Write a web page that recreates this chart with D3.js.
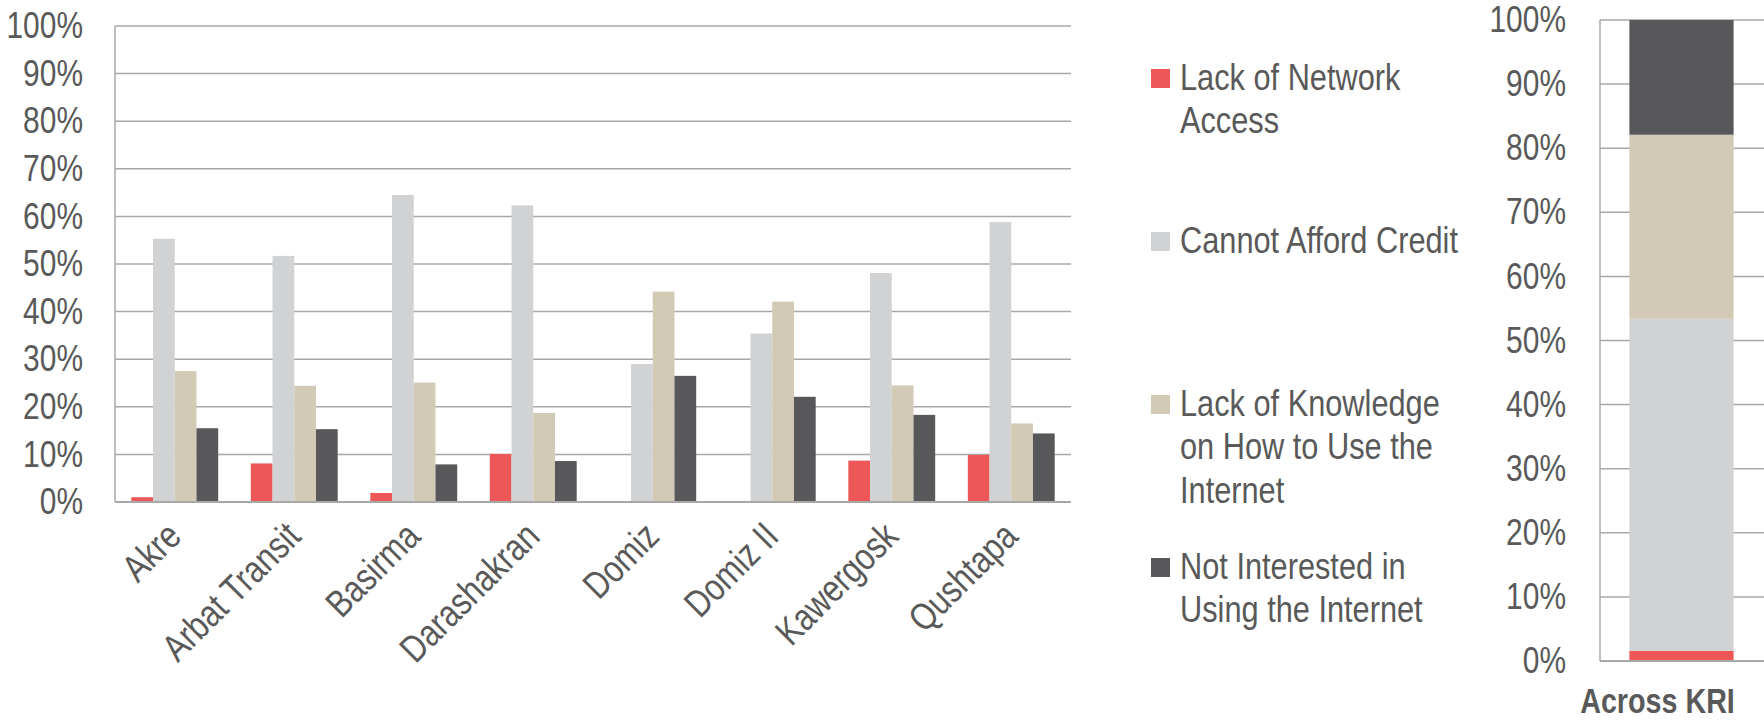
<!DOCTYPE html>
<html>
<head>
<meta charset="utf-8">
<script src="https://cdn.jsdelivr.net/npm/d3@7/dist/d3.min.js"></script>
<style>
  html, body { margin: 0; padding: 0; background: #ffffff; }
  svg { display: block; }
  text { font-family: "Liberation Sans", Arial, sans-serif; fill: #595959; }
</style>
</head>
<body>
<svg id="chart" width="1764" height="721"></svg>
<script>
// ---------------- data ----------------
const categories = ["Akre", "Arbat Transit", "Basirma", "Darashakran", "Domiz", "Domiz II", "Kawergosk", "Qushtapa"];
const seriesNames = ["Lack of Network Access", "Cannot Afford Credit", "Lack of Knowledge on How to Use the Internet", "Not Interested in Using the Internet"];
const legendLines = [["Lack of Network", "Access"], ["Cannot Afford Credit"], ["Lack of Knowledge", "on How to Use the", "Internet"], ["Not Interested in", "Using the Internet"]];
const lackNetwork   = [1.0, 8.1, 1.9, 10.1, 0.0, 0.0, 8.7, 9.9];
const cannotAfford  = [55.3, 51.7, 64.5, 62.3, 29.0, 35.4, 48.1, 58.8];
const lackKnowledge = [27.5, 24.4, 25.1, 18.7, 44.2, 42.1, 24.5, 16.5];
const notInterested = [15.5, 15.3, 7.9, 8.6, 26.5, 22.1, 18.3, 14.4];
const overallCategory = ["Across KRI"];
const overallValues = [1.6, 51.8, 28.7, 17.9];
const yTicks = [0, 10, 20, 30, 40, 50, 60, 70, 80, 90, 100];
const colors = ["#ee5757", "#d1d2d4", "#d3cab6", "#58585a"];

// ---------------- setup ----------------
const svg = d3.select("#chart");
const seriesValues = [lackNetwork, cannotAfford, lackKnowledge, notInterested];
const gridColor = "#a8a8a8";
const fmt = d => d + "%";
const NARROW = 0.82; // emulate a narrow (condensed) sans face

// move x/y of a text into a transform and condense it horizontally
function condense(sel, extra) {
  sel.each(function () {
    const t = d3.select(this);
    const x = +t.attr("x") || 0, yy = +t.attr("y") || 0;
    t.attr("x", 0).attr("y", 0)
     .attr("transform", `translate(${x},${yy}) ${extra || ""} scale(${NARROW},1)`);
  });
}

// ---------------- left grouped chart ----------------
const L = { left: 115, right: 1071, top: 26, bottom: 502 };
const x0 = d3.scaleBand().domain(categories).range([L.left, L.right]).paddingInner(0.273).paddingOuter(0.1365);
const x1 = d3.scaleBand().domain(d3.range(seriesNames.length)).range([0, x0.bandwidth()]);
const y = d3.scaleLinear().domain([0, 100]).range([L.bottom, L.top]);

const gL = svg.append("g");
gL.append("g").selectAll("line").data(yTicks.filter(t => t > 0)).join("line")
  .attr("x1", L.left).attr("x2", L.right)
  .attr("y1", d => y(d)).attr("y2", d => y(d))
  .attr("stroke", gridColor).attr("stroke-width", 1.5);

const groups = gL.append("g").selectAll("g").data(categories).join("g")
  .attr("transform", d => `translate(${x0(d)},0)`);
groups.selectAll("rect").data((d, i) => seriesValues.map((s, k) => ({ k, v: s[i] }))).join("rect")
  .attr("x", d => x1(d.k)).attr("width", x1.bandwidth())
  .attr("y", d => y(d.v)).attr("height", d => y(0) - y(d.v))
  .attr("fill", d => colors[d.k]);

// axes lines
gL.append("line").attr("x1", L.left).attr("x2", L.left).attr("y1", L.top).attr("y2", L.bottom)
  .attr("stroke", gridColor).attr("stroke-width", 1.5);
gL.append("line").attr("x1", L.left).attr("x2", L.right).attr("y1", L.bottom).attr("y2", L.bottom)
  .attr("stroke", gridColor).attr("stroke-width", 2);

// y axis labels
const yAxisL = d3.axisLeft(y).tickValues(yTicks).tickFormat(fmt).tickSize(0).tickPadding(32);
const ya = gL.append("g").attr("transform", `translate(${L.left},0)`).call(yAxisL);
ya.select(".domain").remove();
ya.selectAll("text").attr("font-size", 36.5).attr("fill", "#595959")
  .style("font-family", "'Liberation Sans', Arial, sans-serif");
condense(ya.selectAll("text"));

// x axis labels rotated
const xAxisL = d3.axisBottom(x0).tickSize(0).tickPadding(0);
const xa = gL.append("g").attr("transform", `translate(0,${L.bottom})`).call(xAxisL);
xa.select(".domain").remove();
xa.selectAll(".tick text")
  .attr("font-size", 38).attr("fill", "#595959")
  .style("font-family", "'Liberation Sans', Arial, sans-serif")
  .attr("text-anchor", "end")
  .attr("x", -1).attr("y", 27).attr("dy", "0.35em");
condense(xa.selectAll(".tick text"), "rotate(-45)");

// ---------------- legend ----------------
const lg = svg.append("g").attr("transform", "translate(1151,0)");
const items = lg.selectAll("g").data(legendLines).join("g")
  .attr("transform", (d, i) => `translate(0,${90 + i * 163})`);
items.append("rect").attr("x", 0).attr("y", -21).attr("width", 19).attr("height", 19)
  .attr("fill", (d, i) => colors[i]);
items.append("text").attr("font-size", 37.5)
  .attr("transform", `translate(29,0) scale(${NARROW},1)`)
  .selectAll("tspan").data(d => d).join("tspan")
  .attr("x", 0).attr("dy", (d, j) => j === 0 ? 0 : 43.5).text(d => d);

// ---------------- right stacked chart ----------------
const R = { left: 1600, right: 1763, top: 20, bottom: 661 };
const xr = d3.scaleBand().domain(overallCategory).range([R.left, R.right]).paddingInner(0.22).paddingOuter(0.22);
const yr = d3.scaleLinear().domain([0, 100]).range([R.bottom, R.top]);

const gR = svg.append("g");
gR.append("g").selectAll("line").data(yTicks.filter(t => t > 0)).join("line")
  .attr("x1", R.left).attr("x2", 1764)
  .attr("y1", d => yr(d)).attr("y2", d => yr(d))
  .attr("stroke", gridColor).attr("stroke-width", 1.5);

const stackData = [Object.fromEntries(seriesNames.map((s, k) => [s, overallValues[k]]))];
const stacked = d3.stack().keys(seriesNames)(stackData);
gR.append("g").selectAll("rect").data(stacked).join("rect")
  .attr("x", xr(overallCategory[0])).attr("width", xr.bandwidth())
  .attr("y", d => yr(d[0][1])).attr("height", d => yr(d[0][0]) - yr(d[0][1]))
  .attr("fill", (d, i) => colors[i]);

gR.append("line").attr("x1", R.left).attr("x2", R.left).attr("y1", R.top).attr("y2", R.bottom)
  .attr("stroke", gridColor).attr("stroke-width", 1.5);
gR.append("line").attr("x1", R.left).attr("x2", 1764).attr("y1", R.bottom).attr("y2", R.bottom)
  .attr("stroke", gridColor).attr("stroke-width", 2);

const yAxisR = d3.axisLeft(yr).tickValues(yTicks).tickFormat(fmt).tickSize(0).tickPadding(34);
const yra = gR.append("g").attr("transform", `translate(${R.left},0)`).call(yAxisR);
yra.select(".domain").remove();
yra.selectAll("text").attr("font-size", 36.5).attr("fill", "#595959")
  .style("font-family", "'Liberation Sans', Arial, sans-serif");
condense(yra.selectAll("text"));

const xAxisR = d3.axisBottom(xr).tickSize(0).tickPadding(0);
const xra = gR.append("g").attr("transform", `translate(0,${R.bottom})`).call(xAxisR);
xra.select(".domain").remove();
xra.selectAll(".tick text")
  .attr("font-size", 35).attr("font-weight", "bold").attr("fill", "#595959")
  .style("font-family", "'Liberation Sans', Arial, sans-serif")
  .attr("x", -24).attr("y", 52).attr("dy", 0);
condense(xra.selectAll(".tick text"));
</script>
</body>
</html>
